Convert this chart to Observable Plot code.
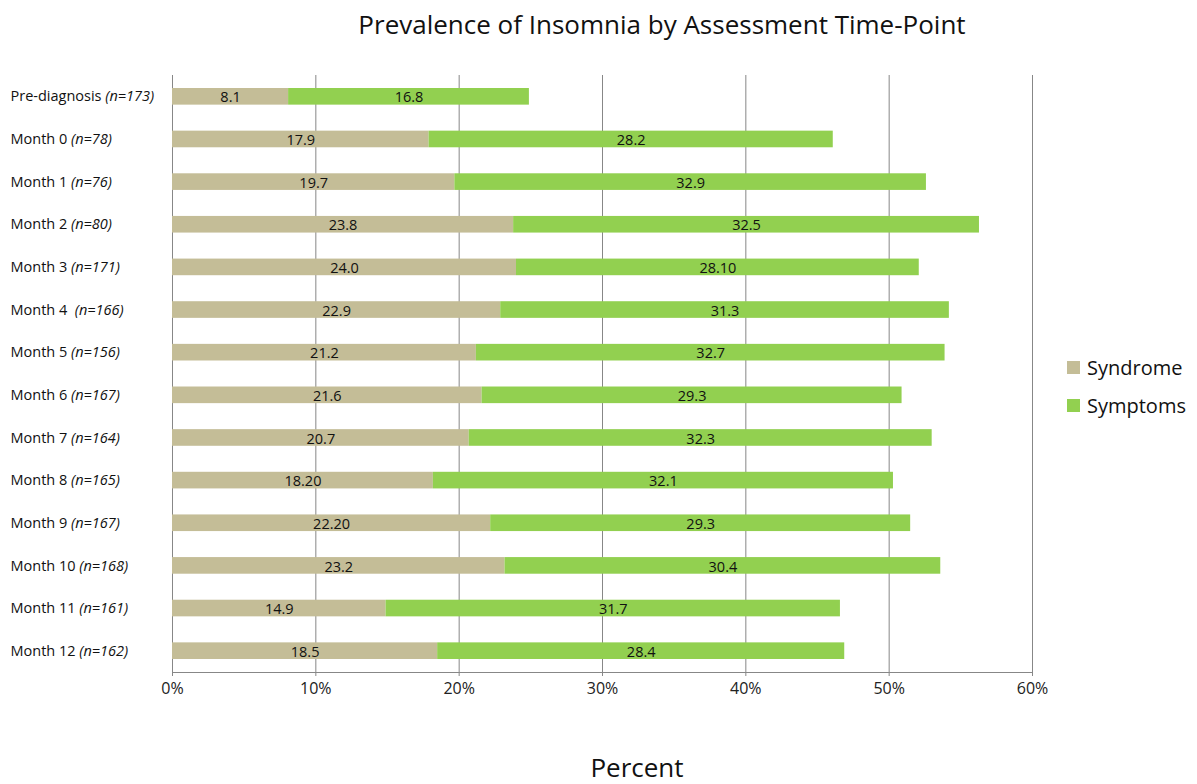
<!DOCTYPE html>
<html>
<head>
<meta charset="utf-8">
<script src="https://cdn.jsdelivr.net/npm/d3@7"></script>
<script src="https://cdn.jsdelivr.net/npm/@observablehq/plot@0.6"></script>
<style>
  html, body { margin: 0; padding: 0; background: #fff; }
  body { width: 1197px; height: 784px; position: relative; overflow: hidden; font-family: "Open Sans", sans-serif; color: #111; }
  #chart { position: absolute; left: 0; top: 0; z-index: 0; }
  #title { position: absolute; z-index: 2; left: 0; width: 1324px; top: 6px; text-align: center; font-size: 26px; line-height: 36px; }
  #xlabel { position: absolute; z-index: 2; left: 0; width: 1274px; top: 750px; text-align: center; font-size: 26px; line-height: 34px; }
  #legend { position: absolute; z-index: 2; left: 1067px; top: 352px; font-size: 20px; }
  #legend div { display: flex; align-items: center; height: 30px; margin-bottom: 8px; }
  #legend span.sw { display: inline-block; width: 13px; height: 13px; margin-right: 7px; }
  #chart svg text { font-family: "Open Sans", sans-serif; }
</style>
</head>
<body>
<div id="chart"></div>
<div id="title">Prevalence of Insomnia by Assessment Time-Point</div>
<div id="xlabel">Percent</div>
<div id="legend"></div>
<script>
const categories = ["Pre-diagnosis (n=173)", "Month 0 (n=78)", "Month 1 (n=76)", "Month 2 (n=80)", "Month 3 (n=171)", "Month 4  (n=166)", "Month 5 (n=156)", "Month 6 (n=167)", "Month 7 (n=164)", "Month 8 (n=165)", "Month 9 (n=167)", "Month 10 (n=168)", "Month 11 (n=161)", "Month 12 (n=162)"];
const seriesNames = ["Syndrome", "Symptoms"];
const seriesColors = ["#c4bd97", "#92d050"];
const syndromeValues = [8.1, 17.9, 19.7, 23.8, 24.0, 22.9, 21.2, 21.6, 20.7, 18.2, 22.2, 23.2, 14.9, 18.5];
const symptomsValues = [16.8, 28.2, 32.9, 32.5, 28.1, 31.3, 32.7, 29.3, 32.3, 32.1, 29.3, 30.4, 31.7, 28.4];
const syndromeLabels = ["8.1", "17.9", "19.7", "23.8", "24.0", "22.9", "21.2", "21.6", "20.7", "18.20", "22.20", "23.2", "14.9", "18.5"];
const symptomsLabels = ["16.8", "28.2", "32.9", "32.5", "28.10", "31.3", "32.7", "29.3", "32.3", "32.1", "29.3", "30.4", "31.7", "28.4"];
const xTicks = [0, 10, 20, 30, 40, 50, 60];

const rows = [];
categories.forEach((c, i) => rows.push({cat: c, series: seriesNames[0], value: syndromeValues[i], label: syndromeLabels[i]}));
categories.forEach((c, i) => rows.push({cat: c, series: seriesNames[1], value: symptomsValues[i], label: symptomsLabels[i]}));

const plot = Plot.plot({
  width: 1197,
  height: 784,
  marginTop: 75,
  marginBottom: 112,
  marginLeft: 172,
  marginRight: 165,
  style: {background: "transparent", fontSize: "14px", color: "#111"},
  x: {domain: [0, 60], axis: null},
  y: {domain: categories, paddingInner: 0.61, paddingOuter: 0.305, round: false, axis: null},
  color: {domain: seriesNames, range: seriesColors},
  marks: [
    Plot.gridX(xTicks, {stroke: "#878787", strokeOpacity: 1, strokeWidth: 1}),
    Plot.frame({anchor: "bottom", stroke: "#878787"}),
    Plot.barX(rows, Plot.stackX({y: "cat", x: "value", z: "series", fill: "series", order: null})),
    Plot.text(rows, Plot.stackX({y: "cat", x: "value", z: "series", text: "label", order: null, fill: "#111", fontSize: 14.5, dy: 1})),
    Plot.text(xTicks, {x: d => d, text: d => d + "%", frameAnchor: "bottom", dy: 21, fontSize: 16, fill: "#222"}),
    Plot.text(categories, {y: d => d, text: d => d, frameAnchor: "left", dx: -162, textAnchor: "start", fontSize: 14.5, fill: "#111"})
  ]
});
document.getElementById("chart").appendChild(plot);

// extend vertical grid lines a few pixels below the baseline as tick marks
d3.select(plot).selectAll('g[aria-label="x-grid"] line').each(function() {
  const el = d3.select(this);
  const y2 = +el.attr("y2");
  if (!isNaN(y2)) el.attr("y2", y2 + 4);
});

// italicize the (n=...) part of row labels
d3.select(plot).selectAll("text").filter(function() {
  return categories.includes(this.textContent);
}).each(function() {
  const t = this.textContent;
  const k = t.indexOf("(");
  const name = t.slice(0, k);
  const n = t.slice(k);
  const sel = d3.select(this);
  sel.text(null).attr("xml:space", "preserve").style("white-space", "pre");
  sel.append("tspan").text(name);
  sel.append("tspan").attr("font-style", "italic").text(n);
});

const legend = d3.select("#legend");
seriesNames.forEach((s, i) => {
  const row = legend.append("div");
  row.append("span").attr("class", "sw").style("background", seriesColors[i]);
  row.append("span").text(s);
});
</script>
</body>
</html>
